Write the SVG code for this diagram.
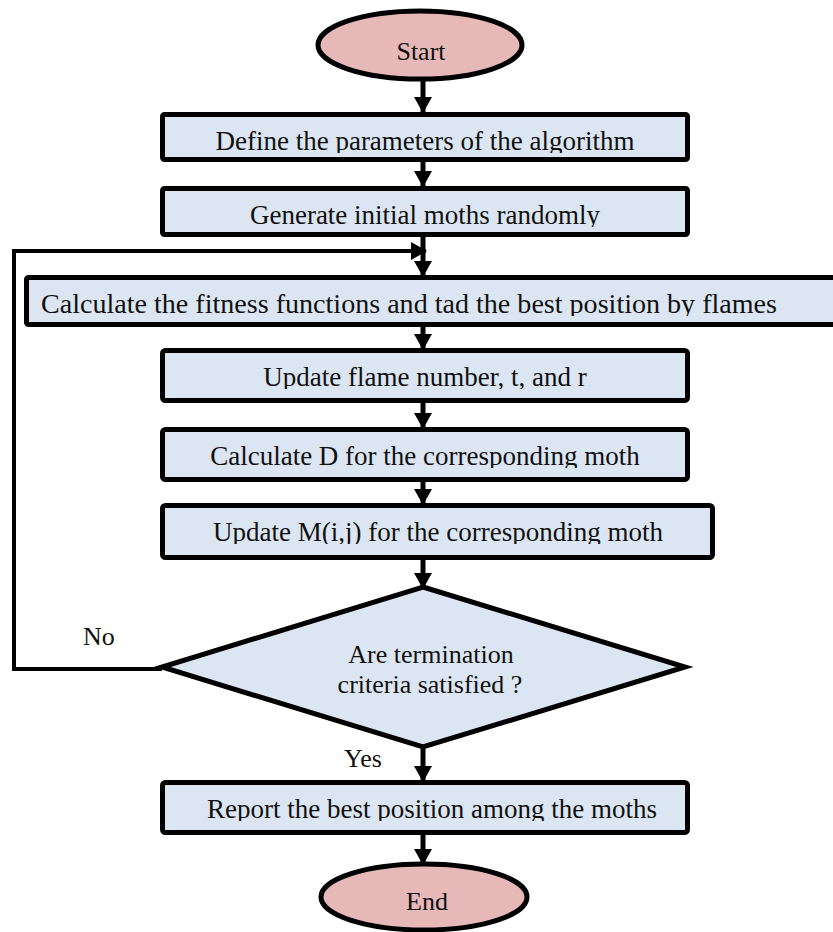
<svg xmlns="http://www.w3.org/2000/svg" width="833" height="932" viewBox="0 0 833 932">
  <style>
    .box { fill: #dce6f2; stroke: #000; stroke-width: 5; }
    .term { fill: #e6b9b8; stroke: #000; stroke-width: 5; }
    .lbl { font-family: "Liberation Serif", "Times New Roman", serif; font-size: 27px; fill: #111; text-anchor: middle; }
    .tl { font-size: 26px; }
    .free { font-family: "Liberation Serif", "Times New Roman", serif; font-size: 26px; fill: #111; }
    .wire { fill: none; stroke: #000; stroke-width: 5; }
    .loop { fill: none; stroke: #000; stroke-width: 4; }
  </style>
  <defs>
    <marker id="head" markerUnits="userSpaceOnUse" markerWidth="18" markerHeight="18" viewBox="0 0 16 18" refX="15" refY="9" orient="auto">
      <path d="M0,0 L16,9 L0,18 Z" fill="#000"/>
    </marker>
    <!-- text frames: each label is cut just below its baseline -->
    <clipPath id="c1"><rect x="160" y="112" width="530" height="41"/></clipPath>
    <clipPath id="c2"><rect x="160" y="186" width="530" height="41"/></clipPath>
    <clipPath id="c3"><rect x="24" y="275" width="820" height="41"/></clipPath>
    <clipPath id="c4"><rect x="160" y="348" width="530" height="41"/></clipPath>
    <clipPath id="c5"><rect x="160" y="427" width="530" height="41"/></clipPath>
    <clipPath id="c6"><rect x="160" y="503" width="555" height="41"/></clipPath>
    <clipPath id="c7"><rect x="160" y="780" width="530" height="41"/></clipPath>
  </defs>

  <!-- connectors -->
  <g id="connectors">
    <line class="wire" x1="423" y1="80" x2="423" y2="112" marker-end="url(#head)"/>
    <line class="wire" x1="423" y1="162" x2="423" y2="186" marker-end="url(#head)"/>
    <line class="wire" x1="423" y1="237" x2="423" y2="276" marker-end="url(#head)"/>
    <line class="wire" x1="423" y1="327" x2="423" y2="349" marker-end="url(#head)"/>
    <line class="wire" x1="423" y1="403" x2="423" y2="428" marker-end="url(#head)"/>
    <line class="wire" x1="423" y1="482" x2="423" y2="504" marker-end="url(#head)"/>
    <line class="wire" x1="423" y1="560" x2="423" y2="588" marker-end="url(#head)"/>
    <line class="wire" x1="423" y1="747" x2="423" y2="781" marker-end="url(#head)"/>
    <line class="wire" x1="423" y1="835" x2="423" y2="864" marker-end="url(#head)"/>
    <polyline class="loop" points="162,669 14,669 14,251 426,251" marker-end="url(#head)"/>
  </g>

  <g id="start">
    <ellipse class="term" cx="420" cy="45" rx="102" ry="34"/>
    <text class="lbl tl" x="421" y="60">Start</text>
  </g>

  <g id="define-params">
    <rect class="box" x="162.5" y="114.5" width="525" height="45" rx="2"/>
    <text class="lbl" x="425" y="150" clip-path="url(#c1)">Define the parameters of the algorithm</text>
  </g>

  <g id="init-moths">
    <rect class="box" x="162.5" y="188.5" width="525" height="46" rx="2"/>
    <text class="lbl" x="425" y="224" clip-path="url(#c2)">Generate initial moths randomly</text>
  </g>

  <g id="fitness">
    <rect class="box" x="26.5" y="277.5" width="830" height="47" rx="2"/>
    <text class="lbl" x="409" y="313" textLength="736" lengthAdjust="spacingAndGlyphs" clip-path="url(#c3)">Calculate the fitness functions and tad the best position by flames</text>
  </g>

  <g id="update-flame">
    <rect class="box" x="162.5" y="350.5" width="525" height="50" rx="3"/>
    <text class="lbl" x="425" y="386" clip-path="url(#c4)">Update flame number, t, and r</text>
  </g>

  <g id="calc-d">
    <rect class="box" x="162.5" y="429.5" width="525" height="50" rx="3"/>
    <text class="lbl" x="425" y="465" clip-path="url(#c5)">Calculate D for the corresponding moth</text>
  </g>

  <g id="update-m">
    <rect class="box" x="162.5" y="505.5" width="550" height="52" rx="3"/>
    <text class="lbl" x="438" y="541" clip-path="url(#c6)">Update M(i,j) for the corresponding moth</text>
  </g>

  <g id="termination">
    <polygon class="box" points="423,587 685,667 423,747 162,667" stroke-linejoin="miter"/>
    <text class="lbl tl" x="431" y="663">Are termination</text>
    <text class="lbl tl" x="430" y="693">criteria satisfied ?</text>
  </g>

  <g id="report">
    <rect class="box" x="162.5" y="782.5" width="525" height="50" rx="3"/>
    <text class="lbl" x="432" y="818" clip-path="url(#c7)">Report the best position among the moths</text>
  </g>

  <g id="end">
    <ellipse class="term" cx="424" cy="897" rx="103" ry="33"/>
    <text class="lbl tl" x="427" y="910">End</text>
  </g>

  <g id="branch-labels">
    <text class="free" x="83" y="645">No</text>
    <text class="free" x="344" y="767">Yes</text>
  </g>
</svg>
